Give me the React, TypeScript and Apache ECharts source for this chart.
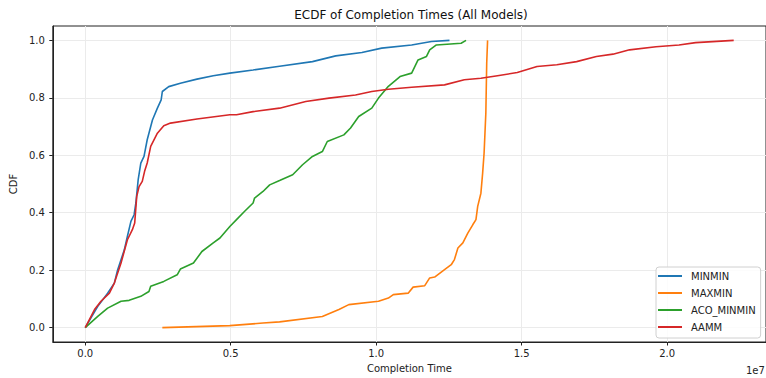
import React, { useEffect, useRef } from "react";
import * as echarts from "echarts";

// Completion time in units of 1e7, and CDF value
const minminData: [number, number][] = [
  [0, 0], [0.043, 0.074], [0.077, 0.12], [0.1, 0.155], [0.111, 0.2], [0.134, 0.27],
  [0.145, 0.318], [0.157, 0.37], [0.168, 0.393], [0.174, 0.434], [0.182, 0.515],
  [0.191, 0.573], [0.202, 0.596], [0.213, 0.654], [0.231, 0.723], [0.248, 0.764],
  [0.261, 0.793], [0.265, 0.822], [0.287, 0.839], [0.327, 0.851], [0.384, 0.865],
  [0.44, 0.877], [0.497, 0.886], [0.577, 0.897], [0.668, 0.91], [0.781, 0.926],
  [0.861, 0.946], [0.951, 0.958], [1.019, 0.973], [1.122, 0.984], [1.19, 0.996],
  [1.252, 1.0],
];

const maxminData: [number, number][] = [
  [0.265, 0.0], [0.497, 0.007], [0.611, 0.016], [0.668, 0.02], [0.815, 0.039],
  [0.872, 0.063], [0.906, 0.08], [1.008, 0.092], [1.042, 0.103], [1.059, 0.115],
  [1.11, 0.12], [1.127, 0.141], [1.167, 0.146], [1.184, 0.173], [1.201, 0.176],
  [1.235, 0.202], [1.258, 0.219], [1.269, 0.237], [1.281, 0.277], [1.298, 0.295],
  [1.315, 0.329], [1.332, 0.358], [1.343, 0.376], [1.349, 0.422], [1.36, 0.468],
  [1.366, 0.538], [1.371, 0.608], [1.377, 0.747], [1.38, 0.921], [1.383, 1.0],
];

const acoMinminData: [number, number][] = [
  [0, 0], [0.043, 0.039], [0.077, 0.068], [0.123, 0.092], [0.151, 0.095],
  [0.191, 0.109], [0.219, 0.126], [0.225, 0.144], [0.27, 0.161], [0.316, 0.184],
  [0.327, 0.204], [0.372, 0.225], [0.401, 0.265], [0.44, 0.295], [0.463, 0.312],
  [0.497, 0.352], [0.52, 0.376], [0.548, 0.405], [0.577, 0.434], [0.582, 0.451],
  [0.611, 0.474], [0.634, 0.497], [0.668, 0.512], [0.713, 0.532], [0.747, 0.567],
  [0.781, 0.596], [0.815, 0.613], [0.832, 0.648], [0.889, 0.671], [0.912, 0.695],
  [0.94, 0.735], [0.985, 0.764], [1.008, 0.799], [1.042, 0.84], [1.082, 0.874],
  [1.122, 0.886], [1.144, 0.932], [1.173, 0.944], [1.184, 0.967], [1.207, 0.984],
  [1.292, 0.99], [1.309, 1.0],
];

const aammData: [number, number][] = [
  [0, 0], [0.032, 0.063], [0.054, 0.092], [0.083, 0.12], [0.1, 0.155], [0.123, 0.225],
  [0.145, 0.306], [0.162, 0.341], [0.17, 0.364], [0.177, 0.457], [0.185, 0.491],
  [0.196, 0.509], [0.204, 0.544], [0.213, 0.573], [0.225, 0.631], [0.248, 0.677],
  [0.27, 0.703], [0.293, 0.712], [0.384, 0.726], [0.497, 0.741], [0.52, 0.741],
  [0.577, 0.752], [0.668, 0.764], [0.758, 0.787], [0.838, 0.799], [0.929, 0.81],
  [0.985, 0.822], [1.042, 0.83], [1.122, 0.837], [1.235, 0.845], [1.303, 0.863],
  [1.36, 0.868], [1.417, 0.877], [1.485, 0.888], [1.553, 0.909], [1.621, 0.915],
  [1.689, 0.926], [1.757, 0.944], [1.814, 0.952], [1.871, 0.967], [1.962, 0.978],
  [2.041, 0.984], [2.098, 0.992], [2.229, 1.0],
];

const seriesNames = ["MINMIN", "MAXMIN", "ACO_MINMIN", "AAMM"];
const seriesColors = ["#1f77b4", "#ff7f0e", "#2ca02c", "#d62728"];
const xTicks = [0, 0.5, 1.0, 1.5, 2.0];
const yTicks = [0, 0.2, 0.4, 0.6, 0.8, 1.0];

const FONT = "DejaVu Sans, sans-serif";

export default function App() {
  const ref = useRef<HTMLDivElement>(null);
  useEffect(() => {
    if (!ref.current) return;
    const chart = echarts.init(ref.current, null, { renderer: "svg" });
    const allData = [minminData, maxminData, acoMinminData, aammData];
    const option: any = {
      animation: false,
      backgroundColor: "#ffffff",
      textStyle: { fontFamily: FONT },
      grid: {
        left: 52,
        top: 26,
        width: 719,
        height: 316,
        show: true,
        borderColor: "#222",
        borderWidth: 1,
        backgroundColor: "transparent",
      },
      xAxis: {
        type: "value",
        min: -0.1115,
        max: 2.34,
        name: "Completion Time",
        nameLocation: "middle",
        nameGap: 21,
        nameTextStyle: { fontSize: 10, color: "#222", fontFamily: FONT },
        axisLine: { show: true, onZero: false, lineStyle: { color: "#222", width: 1 } },
        axisTick: {
          show: true,
          inside: false,
          length: 3.5,
          customValues: xTicks,
          lineStyle: { color: "#222" },
        },
        axisLabel: {
          customValues: xTicks,
          margin: 6,
          fontSize: 10,
          color: "#222",
          fontFamily: FONT,
          formatter: (v: number) => v.toFixed(1),
        },
        splitLine: { show: true, lineStyle: { color: "#ebebeb", width: 1 } },
      },
      yAxis: {
        type: "value",
        min: -0.05,
        max: 1.05,
        name: "CDF",
        nameLocation: "middle",
        nameGap: 30,
        nameRotate: 90,
        nameTextStyle: { fontSize: 10, color: "#222", fontFamily: FONT },
        axisLine: { show: true, onZero: false, lineStyle: { color: "#222", width: 1 } },
        axisTick: {
          show: true,
          inside: false,
          length: 3.5,
          customValues: yTicks,
          lineStyle: { color: "#222" },
        },
        axisLabel: {
          customValues: yTicks,
          margin: 8,
          fontSize: 10,
          color: "#222",
          fontFamily: FONT,
          formatter: (v: number) => v.toFixed(1),
        },
        splitLine: { show: true, lineStyle: { color: "#ebebeb", width: 1 } },
      },
      legend: {
        orient: "vertical",
        left: 656,
        top: 267,
        data: seriesNames,
        icon: "rect",
        itemWidth: 24,
        itemHeight: 2,
        itemGap: 5,
        padding: [3, 5, 5, 2],
        backgroundColor: "rgba(255,255,255,0.85)",
        borderColor: "#d0d0d0",
        borderWidth: 1,
        borderRadius: 3,
        textStyle: {
          fontSize: 10,
          color: "#222",
          fontFamily: FONT,
          lineHeight: 12,
          padding: [0, 0, 0, 4],
        },
      },
      graphic: [
        {
          type: "text",
          x: 411,
          y: 15,
          style: {
            text: "ECDF of Completion Times (All Models)",
            font: "12px " + FONT,
            fill: "#111",
            align: "center",
            verticalAlign: "middle",
          },
        },
        {
          type: "text",
          x: 746,
          y: 370,
          style: {
            text: "1e7",
            font: "10px " + FONT,
            fill: "#222",
            align: "left",
            verticalAlign: "middle",
          },
        },
      ],
      series: seriesNames.map((name, i) => ({
        name,
        type: "line",
        data: allData[i],
        showSymbol: false,
        symbol: "none",
        color: seriesColors[i],
        lineStyle: { width: 1.6, color: seriesColors[i] },
        itemStyle: { color: seriesColors[i] },
        z: 2 + i,
      })),
    };
    chart.setOption(option);
    return () => chart.dispose();
  }, []);
  return (
    <div
      ref={ref}
      style={{ position: "fixed", left: 0, top: 0, width: 766, height: 378 }}
    />
  );
}
